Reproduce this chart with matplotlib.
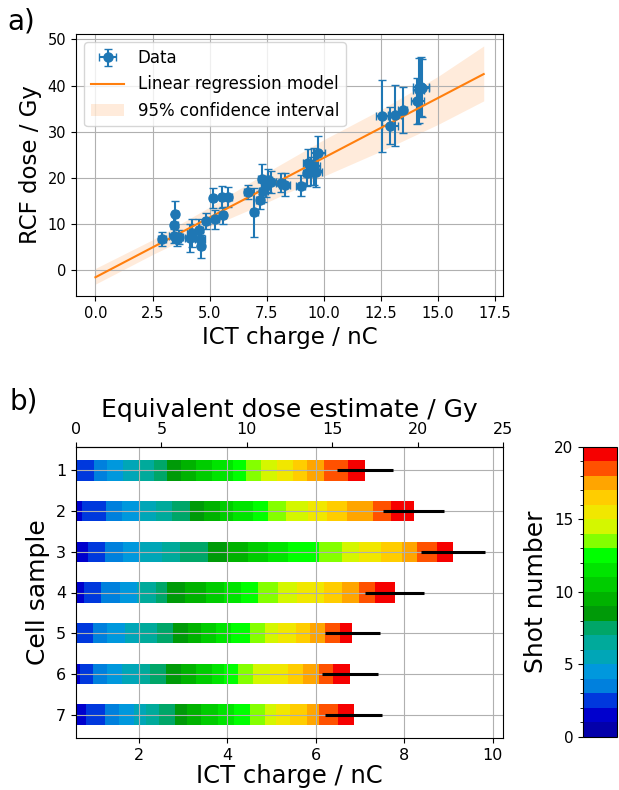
import numpy as np
import matplotlib.pyplot as plt
from matplotlib.colors import ListedColormap, BoundaryNorm
from matplotlib.cm import ScalarMappable

# ---- panel a: RCF dose vs ICT charge ----
ict_charge = [2.92, 3.45, 3.50, 3.42, 3.55, 3.65, 4.12, 4.22, 4.55, 4.58, 4.63,
              4.85, 5.15, 5.25, 5.58, 5.55, 5.80, 6.67, 6.95, 7.20, 7.30, 7.35,
              7.45, 7.55, 7.70, 8.12, 8.28, 8.98, 9.30, 9.28, 9.42, 9.55, 9.65,
              9.75, 12.54, 12.90, 13.10, 13.45, 14.10, 14.15, 14.25, 14.30]
ict_err = [0.18, 0.15, 0.12, 0.20, 0.20, 0.20, 0.18, 0.20, 0.15, 0.20, 0.12,
           0.15, 0.15, 0.15, 0.15, 0.15, 0.18, 0.15, 0.15, 0.18, 0.20, 0.20,
           0.20, 0.20, 0.20, 0.20, 0.25, 0.20, 0.20, 0.20, 0.20, 0.30, 0.25,
           0.30, 0.25, 0.35, 0.30, 0.20, 0.30, 0.25, 0.35, 0.30]
rcf_dose = [6.8, 9.9, 12.2, 7.4, 6.7, 7.2, 7.0, 8.1, 8.8, 6.7, 5.2,
            10.7, 15.6, 11.0, 11.9, 15.8, 15.8, 17.0, 12.6, 15.2, 19.8, 17.2,
            18.2, 19.5, 19.1, 19.0, 18.5, 18.3, 23.3, 21.0, 21.5, 22.5, 21.3,
            25.4, 33.5, 31.3, 33.6, 34.7, 36.6, 39.0, 39.8, 39.5]
rcf_err = [1.5, 2.2, 2.9, 1.6, 1.4, 1.6, 3.0, 3.0, 2.3, 1.5, 2.5,
           1.7, 2.2, 2.0, 1.8, 2.4, 2.2, 1.5, 5.3, 2.0, 3.2, 2.5,
           2.3, 2.5, 2.3, 2.0, 2.5, 2.3, 3.0, 2.8, 3.0, 4.0, 3.3,
           3.6, 7.8, 4.0, 6.6, 5.0, 5.0, 7.0, 6.3, 6.3]

# linear model (dose = slope * charge + intercept)
fit_slope = 2.59
fit_intercept = -1.52
fit_range = [0.0, 17.0]

# 95 % confidence band edges
band_x = [0, 2.5, 5, 7.5, 10, 12.5, 15, 17]
band_upper = [0.4, 6.6, 13.7, 21.2, 28.3, 34.8, 42.0, 48.6]
band_lower = [-3.0, 3.4, 9.4, 14.7, 20.4, 25.8, 31.6, 36.7]

# ---- panel b: cumulative ICT charge after each shot, per cell sample ----
cells = [1, 2, 3, 4, 5, 6, 7]
cum_cell1 = [0.28, 0.58, 1.00, 1.29, 1.64, 1.98, 2.34, 2.64, 2.95, 3.29,
             3.65, 4.14, 4.43, 4.77, 5.14, 5.48, 5.80, 6.20, 6.73, 7.11]
cum_cell2 = [0.35, 0.72, 1.27, 1.63, 2.01, 2.39, 2.75, 3.16, 3.47, 3.83,
             4.13, 4.58, 4.93, 5.34, 5.83, 6.27, 6.70, 7.30, 7.70, 8.22]
cum_cell3 = [0.45, 0.86, 1.25, 1.64, 2.01, 2.53, 2.93, 3.57, 4.02, 4.48,
             4.93, 5.37, 6.08, 6.59, 6.98, 7.48, 7.95, 8.30, 8.75, 9.11]
cum_cell4 = [0.40, 0.77, 1.16, 1.58, 1.97, 2.01, 2.39, 2.65, 3.05, 3.52,
             3.94, 4.32, 4.70, 5.16, 5.59, 6.20, 6.59, 6.98, 7.34, 7.79]
cum_cell5 = [0.28, 0.58, 0.97, 1.29, 1.70, 2.01, 2.42, 2.77, 3.11, 3.41,
             3.75, 4.08, 4.52, 4.86, 5.15, 5.55, 5.87, 6.21, 6.55, 6.83]
cum_cell6 = [0.33, 0.68, 0.97, 1.29, 1.63, 2.01, 2.27, 2.61, 2.95, 3.30,
             3.66, 3.94, 4.24, 4.58, 4.98, 5.38, 5.72, 6.08, 6.39, 6.77]
cum_cell7 = [0.42, 0.82, 1.25, 1.55, 1.89, 2.16, 2.46, 2.82, 3.09, 3.41,
             3.79, 4.15, 4.51, 4.85, 5.11, 5.43, 5.80, 6.08, 6.50, 6.86]
total_err = [0.635, 0.69, 0.73, 0.665, 0.625, 0.635, 0.635]

n_shots = 20
cmap = ListedColormap(plt.cm.nipy_spectral(np.linspace(0.15, 0.86, n_shots)))
norm = BoundaryNorm(np.arange(0, n_shots + 1), cmap.N)

fig = plt.figure(figsize=(6.19, 7.90), dpi=100)
ax1 = fig.add_axes([0.1228, 0.6253, 0.690, 0.3316])
ax2 = fig.add_axes([0.1228, 0.0658, 0.690, 0.3684])
cax = fig.add_axes([0.9418, 0.0671, 0.055, 0.3671])

# panel a
h_data = ax1.errorbar(ict_charge, rcf_dose, xerr=ict_err, yerr=rcf_err, fmt='o',
                      color='C0', markersize=6.5, elinewidth=1.5, capsize=3,
                      label='Data')
h_fit, = ax1.plot(fit_range, [fit_intercept + fit_slope * q for q in fit_range],
                  color='C1', label='Linear regression model')
h_band = ax1.fill_between(band_x, band_lower, band_upper, color='C1', alpha=0.15,
                          linewidth=0, label='95% confidence interval')
ax1.set_xticks(np.arange(0, 17.6, 2.5))
ax1.set_yticks(np.arange(0, 51, 10))
ax1.tick_params(labelsize=10.5)
ax1.grid(True)
ax1.set_xlabel('ICT charge / nC', fontsize=16.5)
ax1.set_ylabel('RCF dose / Gy', fontsize=16.5)
ax1.legend(handles=[h_data, h_fit, h_band], loc='upper left', fontsize=12)

# panel b
cum = np.array([cum_cell1, cum_cell2, cum_cell3, cum_cell4,
                cum_cell5, cum_cell6, cum_cell7])
starts = np.hstack([np.zeros((len(cells), 1)), cum[:, :-1]])
for i in range(n_shots):
    ax2.barh(cells, cum[:, i] - starts[:, i], left=starts[:, i], height=0.5,
             color=cmap(i))
ax2.errorbar(cum[:, -1], cells, xerr=total_err, fmt='none', ecolor='k',
             elinewidth=2.2, capsize=0)
ax2.set_yticks(cells)
ax2.invert_yaxis()
ax2.set_xlim((0 - fit_intercept) / fit_slope, (25 - fit_intercept) / fit_slope)
ax2.grid(True)
ax2.tick_params(labelsize=11.5)
ax2.set_xlabel('ICT charge / nC', fontsize=17.5, labelpad=1)
ax2.set_ylabel('Cell sample', fontsize=18)

top = ax2.secondary_xaxis('top', functions=(lambda q: fit_slope * q + fit_intercept,
                                            lambda d: (d - fit_intercept) / fit_slope))
top.set_xticks([0, 5, 10, 15, 20, 25])
top.tick_params(labelsize=11.5)
top.set_xlabel('Equivalent dose estimate / Gy', fontsize=18)

cb = fig.colorbar(ScalarMappable(norm=norm, cmap=cmap), cax=cax,
                  ticks=[0, 5, 10, 15, 20])
cax.yaxis.set_ticks_position('left')
cax.yaxis.set_label_position('left')
cax.tick_params(labelsize=11)
cb.set_label('Shot number', fontsize=18)

fig.text(0.012, 0.99, 'a)', fontsize=20, va='top')
fig.text(0.015, 0.51, 'b)', fontsize=20, va='top')

fig.savefig('out.png', dpi=100)
